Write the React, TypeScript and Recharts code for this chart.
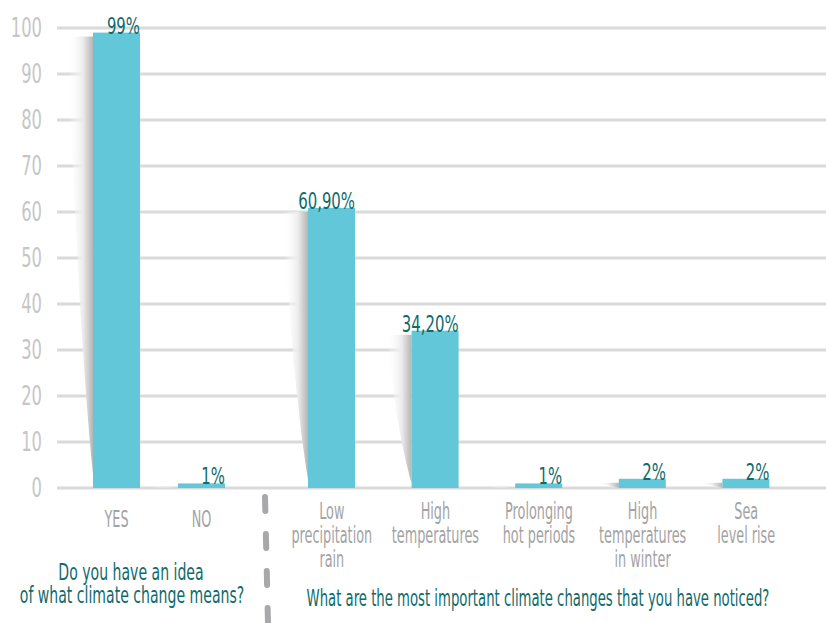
import { BarChart, Bar, XAxis, YAxis, CartesianGrid, LabelList } from 'recharts';

const awarenessCategories = ['YES', 'NO'];
const awarenessValues = [99, 1];
const awarenessLabels = ['99%', '1%'];

const changeCategories = [
    'Low\nprecipitation\nrain',
    'High\ntemperatures',
    'Prolonging\nhot periods',
    'High\ntemperatures\nin winter',
    'Sea\nlevel rise',
];
const changeValues = [60.9, 34.2, 1, 2, 2];
const changeLabels = ['60,90%', '34,20%', '1%', '2%', '2%'];

const yTicks = [0, 10, 20, 30, 40, 50, 60, 70, 80, 90, 100];

const awarenessData = awarenessCategories.map((name, i) => ({
    name,
    value: awarenessValues[i],
    label: awarenessLabels[i],
}));
const changeData = changeCategories.map((name, i) => ({
    name,
    value: changeValues[i],
    label: changeLabels[i],
}));

const FONT = "'DejaVu Sans Condensed', 'DejaVu Sans', sans-serif";
const BAR = '#62C8D9';
const TEAL = '#0F6B6B';
const GRID = '#DADADA';

// condensed text: the original uses a very narrow face, so squeeze horizontally
const CondText = ({ x, y, anchor = 'middle', size, fill, sx = 0.64, lineGap = 24, children }: any) => {
    const lines = String(children).split('\n');
    return (
        <text
            transform={`translate(${x} ${y}) scale(${sx} 1)`}
            textAnchor={anchor}
            fill={fill}
            fontFamily={FONT}
            fontSize={size}
        >
            {lines.map((line, i) => (
                <tspan key={i} x={0} dy={i === 0 ? 0 : lineGap}>
                    {line}
                </tspan>
            ))}
        </text>
    );
};

const ShadowBar = (props: any) => {
    const { x, y, width, height, index, chartKey } = props;
    const id = `shadow-${chartKey}-${index}`;
    const w = 25;
    const d = `M ${x} ${y + 4} L ${x - w} ${y + 4} C ${x - w * 0.75} ${y + height * 0.45}, ${x - 8} ${y + height * 0.8}, ${x} ${y + height * 0.97} Z`;
    return (
        <g>
            <defs>
                <linearGradient id={id} x1="0" x2="1" y1="0" y2="0">
                    <stop offset="0" stopColor="#ffffff" stopOpacity={0} />
                    <stop offset="0.6" stopColor="#ececec" />
                    <stop offset="1" stopColor="#b4b4b4" />
                </linearGradient>
            </defs>
            <path d={d} fill={`url(#${id})`} />
            <rect x={x} y={y} width={width} height={height} fill={BAR} />
        </g>
    );
};

const ValueLabel = (props: any) => {
    const { x, y, width, value } = props;
    return (
        <CondText x={x + width} y={y + 1} anchor="end" size={23} fill={TEAL} sx={0.72}>
            {value}
        </CondText>
    );
};

const YTick = (props: any) => {
    const { x, y, payload } = props;
    return (
        <CondText x={x} y={y + 9} anchor="end" size={26} fill="#C6C6C6" sx={0.7}>
            {payload.value}
        </CondText>
    );
};

const makeTick = (offset: number) => (props: any) => {
    const { x, y, payload } = props;
    return (
        <CondText x={x} y={y + offset} size={23} fill="#A3A3A5" sx={0.62} lineGap={24}>
            {payload.value}
        </CondText>
    );
};

export default function App() {
    return (
        <div
            style={{
                position: 'absolute',
                left: 0,
                top: 0,
                width: 826,
                height: 623,
                background: '#fff',
                display: 'flex',
            }}
        >
            <BarChart
                width={265}
                height={623}
                data={awarenessData}
                margin={{ top: 28, right: 0, bottom: 0, left: 0 }}
            >
                <CartesianGrid vertical={false} stroke={GRID} strokeWidth={3} />
                <YAxis
                    width={57}
                    domain={[0, 100]}
                    ticks={yTicks}
                    tickSize={0}
                    tickMargin={15}
                    axisLine={false}
                    tickLine={false}
                    tick={YTick}
                />
                <XAxis
                    dataKey="name"
                    height={135}
                    padding={{ left: 17, right: 21 }}
                    axisLine={false}
                    tickLine={false}
                    tickSize={0}
                    interval={0}
                    tick={makeTick(37)}
                />
                <Bar
                    dataKey="value"
                    barSize={47}
                    isAnimationActive={false}
                    shape={(p: any) => <ShadowBar {...p} chartKey="a" />}
                >
                    <LabelList dataKey="label" content={ValueLabel} />
                </Bar>
            </BarChart>
            <BarChart
                width={561}
                height={623}
                data={changeData}
                margin={{ top: 28, right: 0, bottom: 0, left: 0 }}
            >
                <CartesianGrid vertical={false} stroke={GRID} strokeWidth={3} />
                <YAxis hide width={0} domain={[0, 100]} ticks={yTicks} />
                <XAxis
                    dataKey="name"
                    height={135}
                    padding={{ left: 15, right: 28 }}
                    axisLine={false}
                    tickLine={false}
                    tickSize={0}
                    interval={0}
                    tick={makeTick(29)}
                />
                <Bar
                    dataKey="value"
                    barSize={47}
                    isAnimationActive={false}
                    shape={(p: any) => <ShadowBar {...p} chartKey="b" />}
                >
                    <LabelList dataKey="label" content={ValueLabel} />
                </Bar>
            </BarChart>
            <svg
                width={826}
                height={623}
                style={{ position: 'absolute', left: 0, top: 0, pointerEvents: 'none' }}
            >
                <line
                    x1={265}
                    y1={497}
                    x2={268}
                    y2={623}
                    stroke="#A8A8AA"
                    strokeWidth={6}
                    strokeDasharray="14 23"
                    strokeLinecap="round"
                />
                <CondText x={131} y={580} size={23} fill={TEAL} sx={0.68}>
                    Do you have an idea
                </CondText>
                <CondText x={132} y={603} size={23} fill={TEAL} sx={0.68}>
                    of what climate change means?
                </CondText>
                <CondText x={538} y={606} size={23} fill={TEAL} sx={0.64}>
                    What are the most important climate changes that you have noticed?
                </CondText>
            </svg>
        </div>
    );
}
